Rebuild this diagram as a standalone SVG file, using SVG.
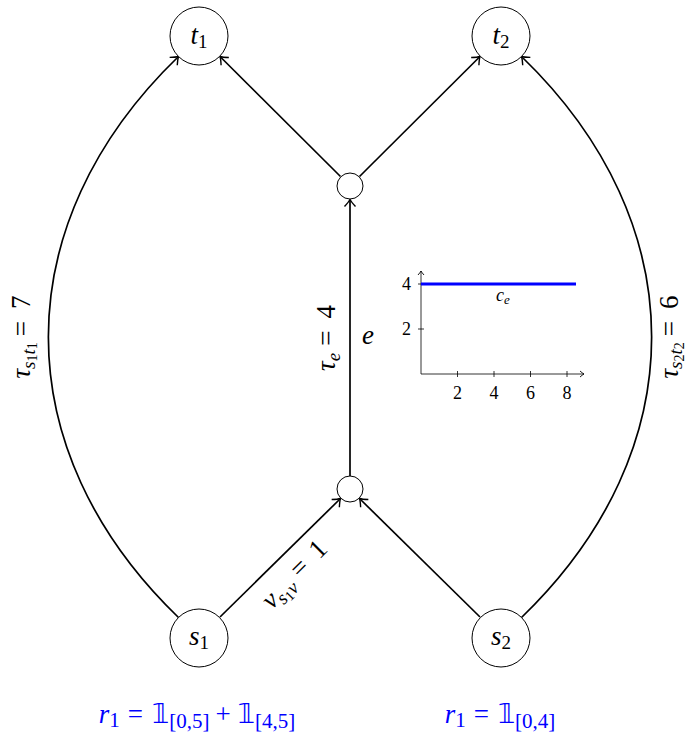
<svg xmlns="http://www.w3.org/2000/svg" width="687" height="733" viewBox="0 0 687 733">
<style>
.node{fill:#fff;stroke:#000;stroke-width:1}
.edge{fill:none;stroke:#000;stroke-width:1.7}
.m{font-family:"Liberation Serif","DejaVu Serif",serif;font-size:27px;fill:#000}
.i{font-style:italic}
.sub{font-size:19px}
.ss{font-size:14px}
.blue{fill:#0000ff}
.ax{stroke:#000;stroke-width:0.8;fill:none}
.tk{font-family:"Liberation Serif","DejaVu Serif",serif;font-size:18px;fill:#000}
.bb{font-family:"DejaVu Sans","Noto Sans",sans-serif}
</style>
<defs>
<marker id="arr" markerUnits="userSpaceOnUse" markerWidth="16" markerHeight="16" viewBox="-10 -8 12 16" refX="0" refY="0" orient="auto">
<path d="M-7,-5.5 Q-2.5,-1.3 0,0 Q-2.5,1.3 -7,5.5" fill="none" stroke="#000" stroke-width="1.4"/>
</marker>
<marker id="arrs" markerUnits="userSpaceOnUse" markerWidth="12" markerHeight="12" viewBox="-8 -6 10 12" refX="0" refY="0" orient="auto">
<path d="M-4,-3 Q-1.5,-0.8 0,0 Q-1.5,0.8 -4,3" fill="none" stroke="#000" stroke-width="0.9"/>
</marker>
</defs>
<g id="connectors">
<path class="edge" d="M178.5,617.5 C5,450 5,224 178.5,56.5" marker-end="url(#arr)"/>
<path class="edge" d="M521.5,617.5 C695,450 695,224 521.5,56.5" marker-end="url(#arr)"/>
<path class="edge" d="M220,617 L340.5,498.5" marker-end="url(#arr)"/>
<path class="edge" d="M480,617 L359.5,498.5" marker-end="url(#arr)"/>
<path class="edge" d="M350,476 L350,199.5" marker-end="url(#arr)"/>
<path class="edge" d="M340.5,176.5 L220,56.5" marker-end="url(#arr)"/>
<path class="edge" d="M359.5,176.5 L480,56.5" marker-end="url(#arr)"/>
<text class="m" transform="translate(30,337) rotate(-90)" text-anchor="middle"><tspan class="i">τ</tspan><tspan class="i sub" dy="5">s</tspan><tspan class="ss" dy="2">1</tspan><tspan class="i sub" dy="-2">t</tspan><tspan class="ss" dy="2">1</tspan><tspan dy="-7" dx="6">=</tspan><tspan dx="12">7</tspan></text>
<text class="m" transform="translate(678,337) rotate(-90)" text-anchor="middle"><tspan class="i">τ</tspan><tspan class="i sub" dy="4">s</tspan><tspan class="ss" dy="1.5">2</tspan><tspan class="i sub" dy="-1.5">t</tspan><tspan class="ss" dy="1.5">2</tspan><tspan dy="-5.5" dx="6">=</tspan><tspan dx="12">6</tspan></text>
<text class="m" transform="translate(335,338) rotate(-90)" text-anchor="middle"><tspan class="i">τ</tspan><tspan class="i sub" dy="5">e</tspan><tspan dy="-5" dx="7">=</tspan><tspan dx="12">4</tspan></text>
<text class="m i" x="368" y="344" text-anchor="middle">e</text>
<text class="m" transform="translate(301,581) rotate(-45)" text-anchor="middle"><tspan class="i">ν</tspan><tspan class="i sub" dy="5">s</tspan><tspan class="ss" dy="2">1</tspan><tspan class="i sub" dy="-2">v</tspan><tspan dy="-7" dx="7">=</tspan><tspan dx="12">1</tspan></text>
</g>
<g id="t1"><circle class="node" cx="199" cy="36" r="29"/><text class="m" x="199" y="44" text-anchor="middle"><tspan class="i">t</tspan><tspan class="sub" dy="4">1</tspan></text></g>
<g id="t2"><circle class="node" cx="501" cy="36" r="29"/><text class="m" x="501" y="44" text-anchor="middle"><tspan class="i">t</tspan><tspan class="sub" dy="4">2</tspan></text></g>
<g id="s1"><circle class="node" cx="199" cy="638" r="29"/><text class="m" x="199" y="645" text-anchor="middle"><tspan class="i">s</tspan><tspan class="sub" dy="4">1</tspan></text></g>
<g id="s2"><circle class="node" cx="501" cy="638" r="29"/><text class="m" x="501" y="645" text-anchor="middle"><tspan class="i">s</tspan><tspan class="sub" dy="4">2</tspan></text></g>
<g id="v_top"><circle class="node" cx="350" cy="186" r="13"/></g>
<g id="v_bottom"><circle class="node" cx="350" cy="489" r="13"/></g>
<g id="chart">
<line class="ax" x1="421" y1="374" x2="421" y2="271" marker-end="url(#arrs)"/>
<line class="ax" x1="421" y1="374" x2="584" y2="374" marker-end="url(#arrs)"/>
<path class="ax" d="M457.5,371 V377 M494,371 V377 M530.5,371 V377 M567,371 V377 M418,329 H424 M418,284 H424"/>
<line x1="421" y1="284" x2="576" y2="284" stroke="#0000ff" stroke-width="2.8"/>
<text class="tk" x="457.5" y="399" text-anchor="middle">2</text>
<text class="tk" x="494" y="399" text-anchor="middle">4</text>
<text class="tk" x="530.5" y="399" text-anchor="middle">6</text>
<text class="tk" x="567" y="399" text-anchor="middle">8</text>
<text class="tk" x="411" y="335" text-anchor="end">2</text>
<text class="tk" x="411" y="290" text-anchor="end">4</text>
<text class="tk blue" x="503" y="301" text-anchor="middle"><tspan class="i">c</tspan><tspan class="i" font-size="13" dy="3">e</tspan></text>
</g>
<text class="m blue" x="197" y="723" text-anchor="middle" font-size="30"><tspan class="i">r</tspan><tspan font-size="21" dy="4">1</tspan><tspan dy="-4" dx="8">=</tspan><tspan class="bb" dx="9">𝟙</tspan><tspan font-size="21" dy="5">[0,5]</tspan><tspan dy="-5" dx="6">+</tspan><tspan class="bb" dx="7">𝟙</tspan><tspan font-size="21" dy="5">[4,5]</tspan></text>
<text class="m blue" x="500" y="723" text-anchor="middle" font-size="30"><tspan class="i">r</tspan><tspan font-size="21" dy="4">1</tspan><tspan dy="-4" dx="8">=</tspan><tspan class="bb" dx="9">𝟙</tspan><tspan font-size="21" dy="5">[0,4]</tspan></text>
</svg>
